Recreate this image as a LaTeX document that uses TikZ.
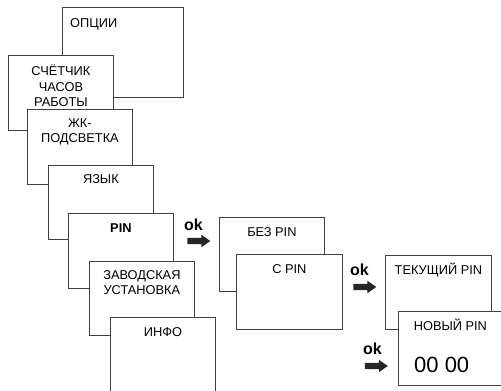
\documentclass[tikz,border=0pt]{standalone}
\usepackage{fontspec}
\setmainfont{Liberation Sans}
\usetikzlibrary{calc,positioning,shapes.arrows}

\tikzset{
  menubox/.style={draw=black!75, line width=0.8pt, fill=white, rectangle, anchor=north west,
    minimum width=105pt, minimum height=75pt, inner sep=0pt},
  menutext/.style={anchor=north, inner sep=0pt, align=center, font=\fontsize{12.8}{15.5}\selectfont},
  okarrow/.style={single arrow, fill=black!85, draw=none, minimum height=23pt, minimum width=0pt,
    inner xsep=0pt, inner ysep=3pt, single arrow head extend=3pt, single arrow tip angle=70},
  oktext/.style={inner sep=0pt, font=\fontsize{16}{16}\selectfont\bfseries}
}

\begin{document}
\begin{tikzpicture}[x=1pt, y=-1pt]
    \useasboundingbox (0,0) rectangle (501,391);
    \clip (0,0) rectangle (501,391);

    % Menu stack
    \node[menubox, minimum width=121pt, minimum height=90pt] (opt) at (62,7) {};
    \node[menutext, anchor=north west] (optlbl) at ($(opt.north west)+(8,11)$) {ОПЦИИ};
    \node[menubox] (count) at ($(opt.north west)+(-54,48)$) {};
    \node[menutext] (countlbl) at ($(count.north)+(0,10)$) {СЧЁТЧИК\\ЧАСОВ\\РАБОТЫ};
    \node[menubox] (lcd) at ($(count.north west)+(19,54)$) {};
    \node[menutext] (lcdlbl) at ($(lcd.north)+(0,9)$) {ЖК-\\ПОДСВЕТКА};
    \node[menubox, minimum height=74pt] (lang) at ($(lcd.north west)+(21,56)$) {};
    \node[menutext] (langlbl) at ($(lang.north)+(0,9)$) {ЯЗЫК};
    \node[menubox] (pin) at ($(lang.north west)+(20,48)$) {};
    \node[menutext, font=\fontsize{12.8}{15.5}\selectfont\bfseries] (pinlbl) at ($(pin.north)+(0,10)$) {PIN};
    \node[menubox, minimum height=74pt] (fact) at ($(pin.north west)+(21,48)$) {};
    \node[menutext] (factlbl) at ($(fact.north)+(0,9)$) {ЗАВОДСКАЯ\\УСТАНОВКА};
    \node[menubox, minimum height=80pt] (info) at ($(fact.north west)+(21,56)$) {};
    \node[menutext] (infolbl) at ($(info.north)+(0,10)$) {ИНФО};

    % PIN submenu
    \node[menubox, minimum height=74pt] (nopin) at (219,217) {};
    \node[menutext] (nopinlbl) at ($(nopin.north)+(0,10)$) {БЕЗ PIN};
    \node[menubox, minimum width=106pt] (withpin) at ($(nopin.north west)+(17,37)$) {};
    \node[menutext] (withpinlbl) at ($(withpin.north)+(0,10)$) {С PIN};

    % PIN entry
    \node[menubox, minimum width=106pt, minimum height=74pt] (cur) at (385,255) {};
    \node[menutext] (curlbl) at ($(cur.north)+(0,8)$) {ТЕКУЩИЙ PIN};
    \node[menubox, minimum width=104pt, minimum height=74pt] (new) at ($(cur.north west)+(13,56)$) {};
    \node[menutext] (newlbl) at ($(new.north)+(0,8)$) {НОВЫЙ PIN};
    \node[anchor=base west, inner sep=0pt, font=\fontsize{22}{22}\selectfont] (newval) at ($(new.north west)+(16,61)$) {00 00};

    % ok arrows
    \node[okarrow] (arr1) at (196.5,241) {};
    \node[oktext, above=7pt of arr1, xshift=-3pt] (ok1) {ok};
    \node[okarrow] (arr2) at (362.5,287) {};
    \node[oktext, above=8pt of arr2, xshift=-3pt] (ok2) {ok};
    \node[okarrow] (arr3) at (374,366) {};
    \node[oktext, above=8pt of arr3, xshift=-1.5pt] (ok3) {ok};
\end{tikzpicture}
\end{document}
